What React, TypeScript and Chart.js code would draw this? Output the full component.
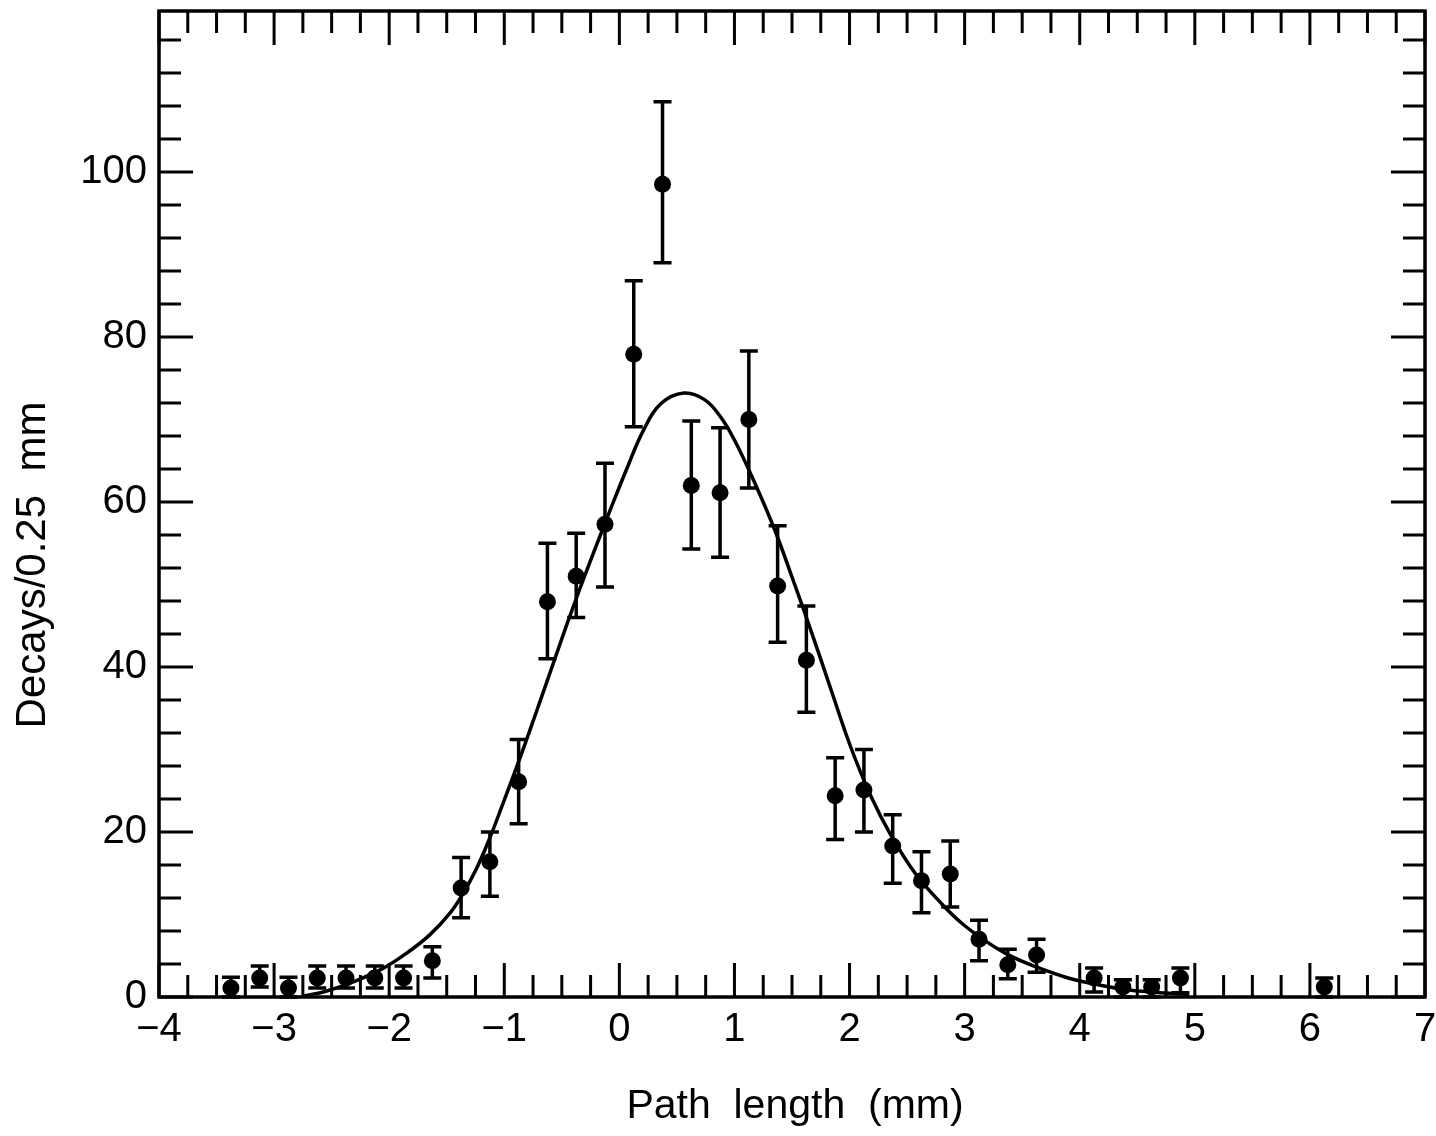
import React, { useEffect, useRef } from "react";
import { Chart, registerables } from "chart.js";

Chart.register(...registerables);

// ---- Data ----
const binCenters = [
  -3.375, -3.125, -2.875, -2.625, -2.375, -2.125, -1.875, -1.625, -1.375, -1.125,
  -0.875, -0.625, -0.375, -0.125, 0.125, 0.375, 0.625, 0.875, 1.125, 1.375,
  1.625, 1.875, 2.125, 2.375, 2.625, 2.875, 3.125, 3.375, 3.625, 4.125,
  4.375, 4.625, 4.875, 6.125,
];
const decays = [
  1.1, 2.3, 1.1, 2.3, 2.3, 2.3, 2.3, 4.4, 13.2, 16.4,
  26.1, 47.9, 51, 57.3, 77.9, 98.5, 62, 61.1, 70, 49.8,
  40.8, 24.4, 25.1, 18.3, 14.1, 14.9, 7.0, 3.9, 5.1, 2.3,
  1.2, 1.2, 2.3, 1.2,
];
const errTop = [
  2.4, 3.75, 2.4, 3.75, 3.75, 3.75, 3.75, 6.1, 16.9, 20.0,
  31.2, 55, 56.2, 64.7, 86.8, 108.5, 69.8, 69, 78.3, 57.1,
  47.4, 29, 30, 22.1, 17.6, 18.9, 9.3, 5.8, 7.0, 3.5,
  2.1, 2.1, 3.5, 2.3,
];
const errBottom = [
  0, 1.2, 0, 1.1, 1.1, 1.1, 1.1, 2.3, 9.6, 12.2,
  21, 41, 46, 49.7, 69.1, 89, 54.3, 53.3, 61.7, 43,
  34.5, 19.1, 20, 13.8, 10.2, 10.9, 4.4, 2.2, 3.0, 0.6,
  0, 0, 0.5, 0,
];

// fitted curve
const fitX = [
  -2.75, -2.55, -2.3, -2.05, -1.85, -1.65, -1.47, -1.36, -1.24, -1.125,
  -1.01, -0.86, -0.72, -0.63, -0.46, -0.34, -0.22, -0.08, 0.07, 0.21,
  0.36, 0.56, 0.74, 0.88, 1.0, 1.17, 1.35, 1.5, 1.67, 1.84,
  2.01, 2.19, 2.36, 2.57, 2.8, 2.97, 3.18, 3.38, 3.61, 3.9,
  4.17, 4.43, 4.78, 4.95,
];
const fitY = [
  0.1, 0.7, 1.9, 3.5, 5.3, 7.5, 10.2, 12.5, 15.6, 19.3,
  23.5, 29.1, 34.6, 38.2, 45.0, 49.6, 54.0, 59.0, 64.2, 68.7,
  71.9, 73.2, 72.4, 70.3, 67.5, 62.5, 56.6, 50.9, 44.2, 37.2,
  30.3, 24.2, 19.6, 15.0, 11.3, 9.0, 6.8, 5.1, 3.7, 2.3,
  1.45, 0.85, 0.45, 0.3,
];

const xTickLabels = [-4, -3, -2, -1, 0, 1, 2, 3, 4, 5, 6, 7];
const yTickLabels = [0, 20, 40, 60, 80, 100];
const xRange = [-4, 7];
const yRange = [0, 119.5];
const xMinorStep = 0.25;
const yMinorStep = 4;
const yMajorStep = 20;

const xTitle = "Path  length  (mm)";
const yTitle = "Decays/0.25  mm";

const FONT = "'Liberation Sans', Arial, Helvetica, sans-serif";

const framePlugin = {
  id: "frameTicks",
  afterDraw(chart: any) {
    const ctx = chart.ctx;
    const { left, right, top, bottom } = chart.chartArea;
    const xs = chart.scales.x;
    const ys = chart.scales.y;
    ctx.save();
    ctx.strokeStyle = "#000";
    ctx.lineCap = "butt";
    // ticks
    ctx.lineWidth = 3;
    const majorLen = 34;
    const minorLen = 22;
    const nx = Math.round((xRange[1] - xRange[0]) / xMinorStep);
    for (let i = 0; i <= nx; i++) {
      const v = xRange[0] + i * xMinorStep;
      const px = xs.getPixelForValue(v);
      const isMajor = Math.abs(v - Math.round(v)) < 1e-6;
      const len = isMajor ? majorLen : minorLen;
      ctx.beginPath();
      ctx.moveTo(px, bottom);
      ctx.lineTo(px, bottom - len);
      ctx.moveTo(px, top);
      ctx.lineTo(px, top + len);
      ctx.stroke();
    }
    for (let v = 0; v <= yRange[1] + 1e-6; v += yMinorStep) {
      const py = ys.getPixelForValue(v);
      const isMajor = v % yMajorStep === 0;
      const len = isMajor ? majorLen : minorLen;
      ctx.beginPath();
      ctx.moveTo(left, py);
      ctx.lineTo(left + len, py);
      ctx.moveTo(right, py);
      ctx.lineTo(right - len, py);
      ctx.stroke();
    }
    // frame
    ctx.lineWidth = 3.5;
    ctx.strokeRect(left, top, right - left, bottom - top);

    // error bars
    ctx.lineWidth = 3.5;
    const cap = 9;
    for (let i = 0; i < binCenters.length; i++) {
      const px = xs.getPixelForValue(binCenters[i]);
      const pt = ys.getPixelForValue(errTop[i]);
      const pb = ys.getPixelForValue(errBottom[i]);
      ctx.beginPath();
      ctx.moveTo(px, pt);
      ctx.lineTo(px, pb);
      ctx.moveTo(px - cap, pt);
      ctx.lineTo(px + cap, pt);
      ctx.moveTo(px - cap, pb);
      ctx.lineTo(px + cap, pb);
      ctx.stroke();
    }

    // titles
    ctx.fillStyle = "#000";
    ctx.textAlign = "center";
    ctx.textBaseline = "middle";
    ctx.font = `41px ${FONT}`;
    ctx.fillText(xTitle, 795, 1107);
    ctx.translate(33, 565);
    ctx.rotate(-Math.PI / 2);
    ctx.font = `42px ${FONT}`;
    ctx.fillText(yTitle, 0, 0);
    ctx.restore();
  },
};

export default function App() {
  const canvasRef = useRef<HTMLCanvasElement | null>(null);

  useEffect(() => {
    if (!canvasRef.current) return;
    const chart = new Chart(canvasRef.current, {
      type: "scatter",
      data: {
        datasets: [
          {
            label: "fit",
            data: fitX.map((x, i) => ({ x, y: fitY[i] })),
            showLine: true,
            borderColor: "#000",
            borderWidth: 3.5,
            pointRadius: 0,
            tension: 0.4,
            fill: false,
          } as any,
          {
            label: "data",
            data: binCenters.map((x, i) => ({ x, y: decays[i] })),
            showLine: false,
            pointRadius: 8.5,
            pointBackgroundColor: "#000",
            pointBorderColor: "#000",
            pointBorderWidth: 0,
          },
        ],
      },
      options: {
        responsive: false,
        animation: false,
        layout: { padding: { top: 11, right: 11, left: 0, bottom: 0 } },
        plugins: {
          legend: { display: false },
          tooltip: { enabled: false },
          title: { display: false },
        },
        scales: {
          x: {
            type: "linear",
            min: xRange[0],
            max: xRange[1],
            grid: { display: false, drawTicks: false },
            border: { display: false },
            afterBuildTicks: (scale: any) => {
              scale.ticks = xTickLabels.map((v) => ({ value: v }));
            },
            afterFit: (scale: any) => {
              scale.height = 139;
              scale.paddingLeft = 0;
              scale.paddingRight = 0;
            },
            ticks: {
              autoSkip: false,
              maxRotation: 0,
              minRotation: 0,
              padding: 9,
              color: "#000",
              font: { family: FONT, size: 40 },
              callback: (v: any) => String(v).replace("-", "\u2212"),
            },
          },
          y: {
            type: "linear",
            min: yRange[0],
            max: yRange[1],
            grid: { display: false, drawTicks: false },
            border: { display: false },
            afterBuildTicks: (scale: any) => {
              scale.ticks = yTickLabels.map((v) => ({ value: v }));
            },
            afterFit: (scale: any) => {
              scale.width = 159;
              scale.paddingTop = 0;
              scale.paddingBottom = 0;
            },
            ticks: {
              autoSkip: false,
              padding: 12,
              color: "#000",
              font: { family: FONT, size: 40 },
              callback: (v: any) => String(v),
            },
          },
        },
      },
      plugins: [framePlugin],
    });
    return () => chart.destroy();
  }, []);

  return (
    <div style={{ position: "absolute", left: 0, top: 0, width: 1436, height: 1136, background: "#fff" }}>
      <canvas ref={canvasRef} width={1436} height={1136} style={{ display: "block" }} />
    </div>
  );
}
